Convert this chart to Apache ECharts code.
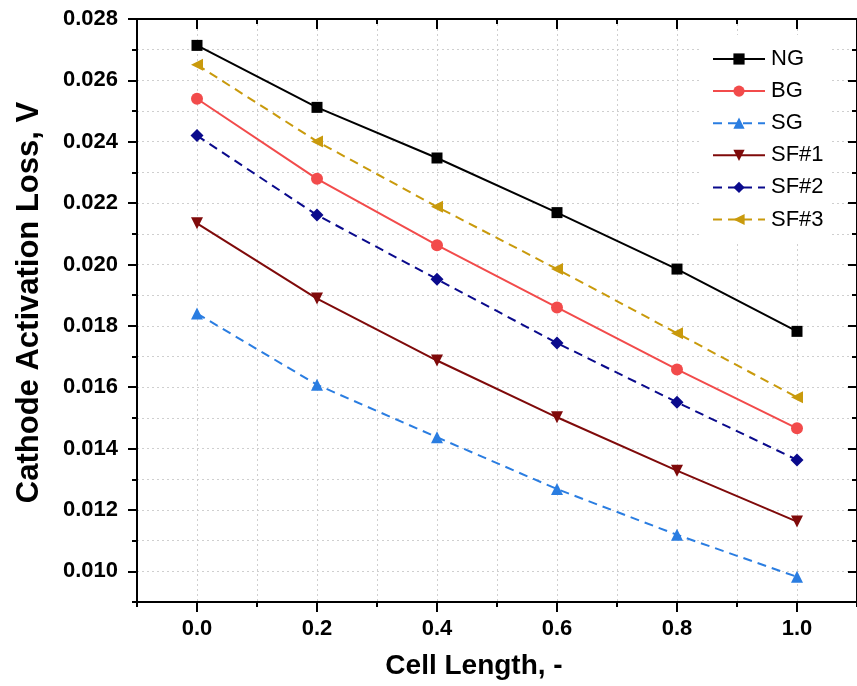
<!DOCTYPE html>
<html>
<head>
<meta charset="utf-8">
<script src="https://cdn.jsdelivr.net/npm/echarts@6/dist/echarts.min.js"></script>
<style>
html,body{margin:0;padding:0;background:#fff;}
#chart{width:857px;height:686px;}
</style>
</head>
<body>
<div id="chart"></div>
<script>
// ---- data ----
var cellLength = [0.0, 0.2, 0.4, 0.6, 0.8, 1.0];
var NG  = [0.02714, 0.02512, 0.02347, 0.02169, 0.01985, 0.01782];
var BG  = [0.02540, 0.02279, 0.02063, 0.01860, 0.01658, 0.01466];
var SG  = [0.01840, 0.01608, 0.01437, 0.01268, 0.01119, 0.00982];
var SF1 = [0.02134, 0.01889, 0.01687, 0.01502, 0.01328, 0.01162];
var SF2 = [0.02420, 0.02161, 0.01952, 0.01744, 0.01551, 0.01363];
var SF3 = [0.02651, 0.02401, 0.02188, 0.01985, 0.01776, 0.01567];
var seriesNames = ['NG', 'BG', 'SG', 'SF#1', 'SF#2', 'SF#3'];
var xMajorTicks = [0.0, 0.2, 0.4, 0.6, 0.8, 1.0];
var xMinorTicks = [-0.1, 0.1, 0.3, 0.5, 0.7, 0.9, 1.1];
var yMajorTicks = [0.010, 0.012, 0.014, 0.016, 0.018, 0.020, 0.022, 0.024, 0.026, 0.028];
var yMinorTicks = [0.009, 0.011, 0.013, 0.015, 0.017, 0.019, 0.021, 0.023, 0.025, 0.027];

function pairs(ys) { return cellLength.map(function (x, i) { return [x, ys[i]]; }); }

var FONT = '"Liberation Sans", Arial, sans-serif';
var gridLine = { show: true, lineStyle: { color: '#cfcfcf', type: [2, 3], width: 1 } };
var axisLineStyle = { show: true, onZero: false, lineStyle: { color: '#000', width: 2 } };
var noLine = { show: false, onZero: false };

function xAx(pos, ticks, len, inside, main) {
  var isBottom = pos === 'bottom';
  return {
    type: 'value', position: pos, min: -0.1, max: 1.1, interval: 0.1,
    axisLine: main ? axisLineStyle : noLine,
    axisTick: { show: true, inside: inside, length: len, customValues: ticks, lineStyle: { color: '#000', width: 2 } },
    axisLabel: (main && isBottom) ? {
      show: true, customValues: xMajorTicks, margin: 16,
      fontFamily: FONT, fontWeight: 'bold', fontSize: 22, color: '#000',
      formatter: function (v) { return v.toFixed(1); }
    } : { show: false },
    splitLine: isBottom ? gridLine : { show: false },
    name: (main && isBottom) ? 'Cell Length, -' : '',
    nameLocation: 'middle', nameGap: 50,
    nameTextStyle: { fontFamily: FONT, fontWeight: 'bold', fontSize: 28, color: '#000', padding: [0, 46, 0, 0] }
  };
}
function yAx(pos, ticks, len, inside, main) {
  var isLeft = pos === 'left';
  return {
    type: 'value', position: pos, min: 0.009, max: 0.028, interval: 0.001,
    axisLine: main ? axisLineStyle : noLine,
    axisTick: { show: true, inside: inside, length: len, customValues: ticks, lineStyle: { color: '#000', width: 2 } },
    axisLabel: (main && isLeft) ? {
      show: true, customValues: yMajorTicks, margin: 19,
      fontFamily: FONT, fontWeight: 'bold', fontSize: 22, color: '#000',
      formatter: function (v) { return v.toFixed(3); }
    } : { show: false },
    splitLine: isLeft ? gridLine : { show: false },
    name: (main && isLeft) ? 'Cathode Activation Loss, V' : '',
    nameLocation: 'middle', nameGap: 92, nameRotate: 90,
    nameTextStyle: { fontFamily: FONT, fontWeight: 'bold', fontSize: 31, color: '#000', padding: [0, 0, 0, 16] }
  };
}

var styles = [
  { color: '#000000', symbol: 'rect', rot: 0, dash: 'solid', size: 11 },
  { color: '#f24b4b', symbol: 'circle', rot: 0, dash: 'solid', size: 12 },
  { color: '#2a7de1', symbol: 'triangle', rot: 0, dash: [9, 6], size: 12 },
  { color: '#7f0a0a', symbol: 'triangle', rot: 180, dash: 'solid', size: 12 },
  { color: '#0a0a8c', symbol: 'diamond', rot: 0, dash: [9, 6], size: 13 },
  { color: '#c99a0c', symbol: 'triangle', rot: 90, dash: [9, 6], size: 12 }
];
var values = [NG, BG, SG, SF1, SF2, SF3];

var chart = echarts.init(document.getElementById('chart'), null, { renderer: 'canvas' });
chart.setOption({
  animation: false,
  backgroundColor: '#fff',
  grid: { left: 137, top: 19, width: 724, height: 583, containLabel: false },
  xAxis: [
    xAx('bottom', xMajorTicks, 10, false, true),
    xAx('bottom', xMinorTicks, 5, false, false),
    xAx('top', xMajorTicks, 10, true, true),
    xAx('top', xMinorTicks, 5, true, false)
  ],
  yAxis: [
    yAx('left', yMajorTicks, 9, false, true),
    yAx('left', yMinorTicks, 5, false, false),
    yAx('right', yMajorTicks, 9, true, true),
    yAx('right', yMinorTicks, 5, true, false)
  ],
  legend: {
    orient: 'vertical', left: 702, top: 35,
    data: seriesNames,
    itemWidth: 52, itemHeight: 14, itemGap: 10.1,
    backgroundColor: '#fff', padding: [13, 6, 13, 10],
    textStyle: { fontFamily: FONT, fontSize: 22, color: '#000', padding: [0, 0, 0, 1] }
  },
  series: seriesNames.map(function (n, i) {
    var s = styles[i];
    return {
      name: n, type: 'line', xAxisIndex: 0, yAxisIndex: 0,
      data: pairs(values[i]),
      symbol: s.symbol, symbolRotate: s.rot, symbolSize: s.size,
      showAllSymbol: true,
      lineStyle: { color: s.color, width: 2, type: s.dash },
      itemStyle: { color: s.color },
      z: 3
    };
  })
});
</script>
</body>
</html>
